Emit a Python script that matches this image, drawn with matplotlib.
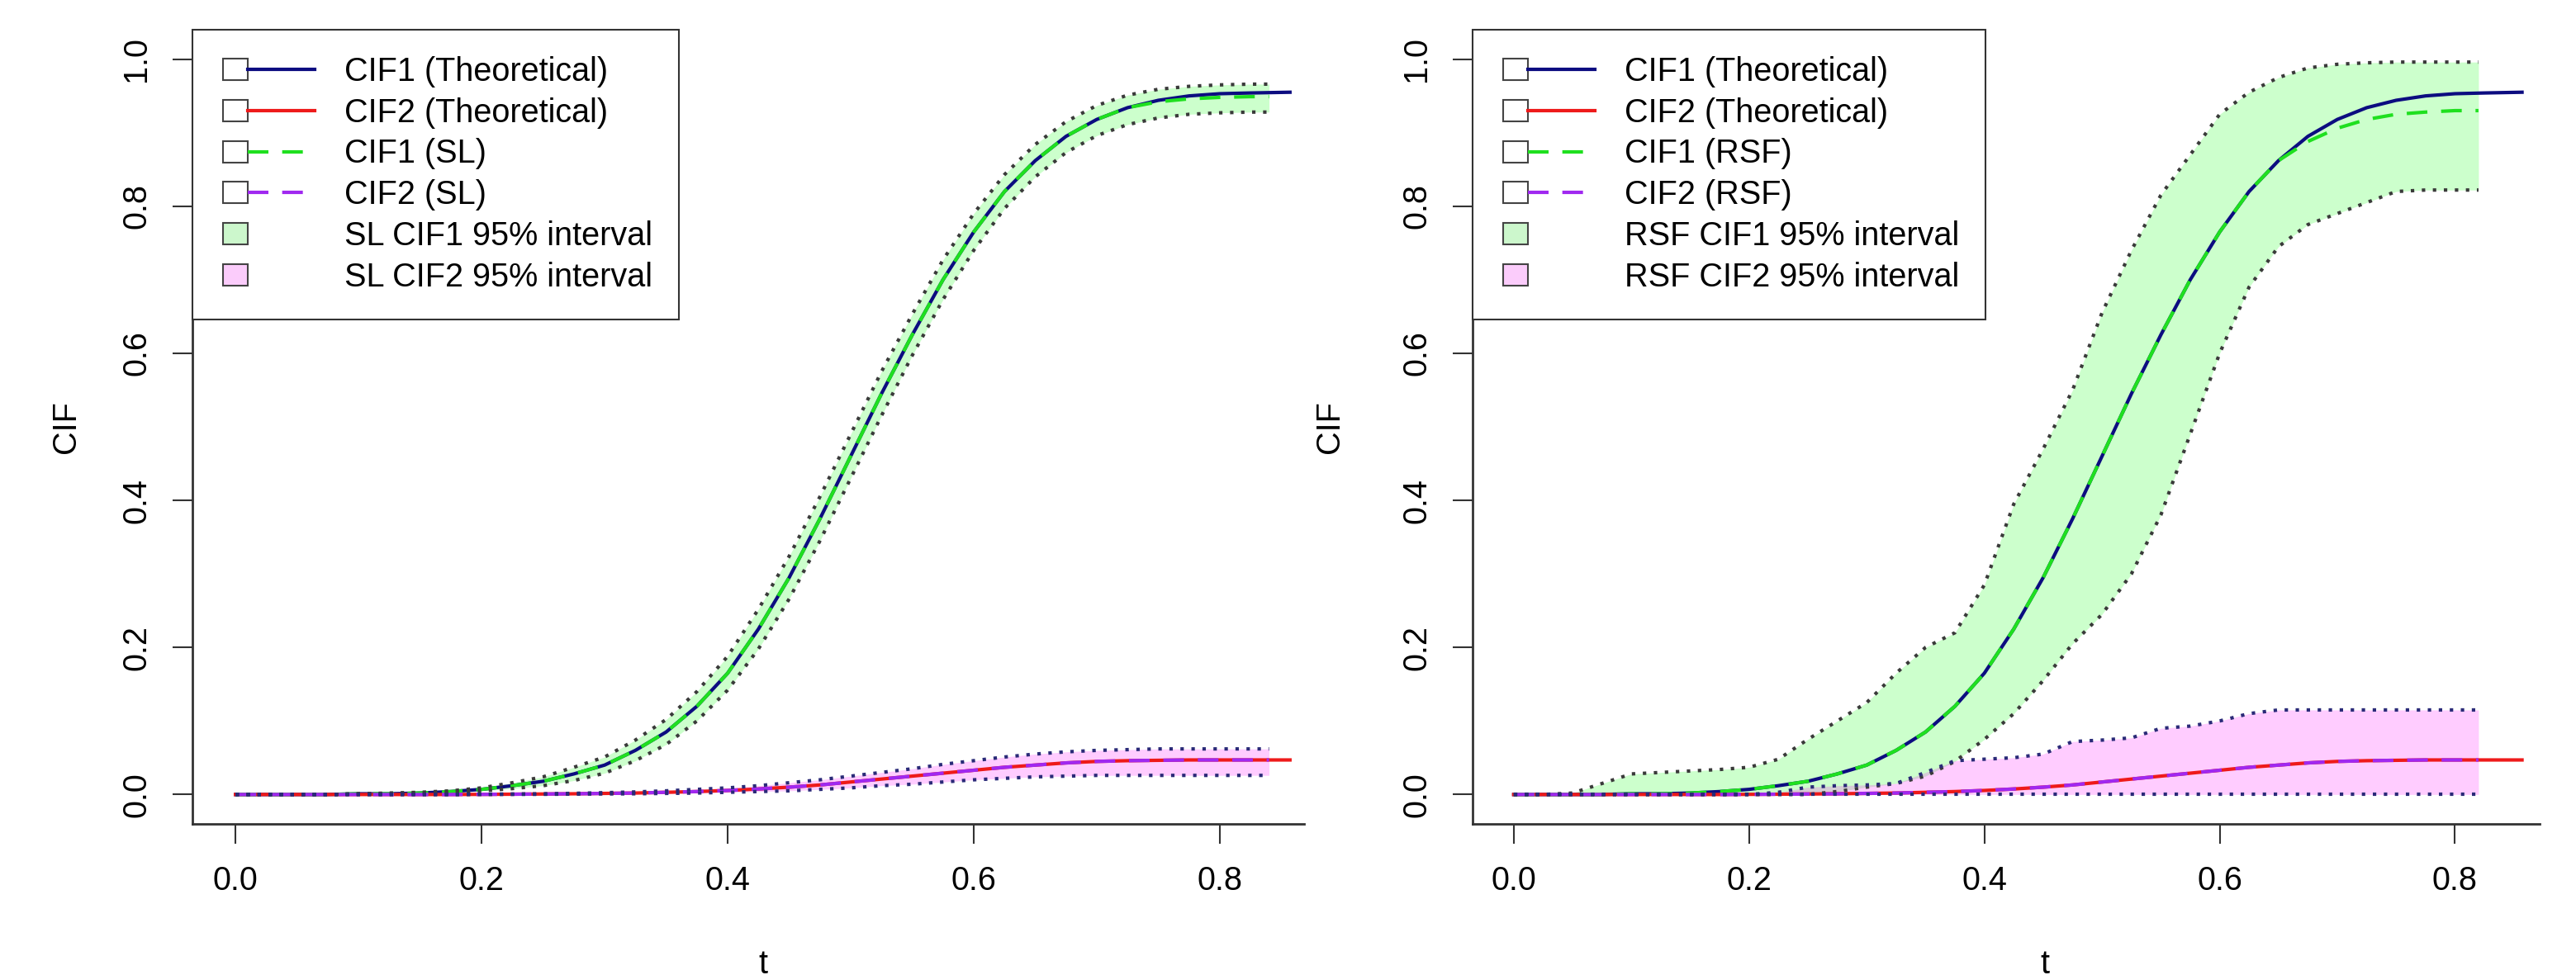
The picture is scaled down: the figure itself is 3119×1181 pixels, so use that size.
import matplotlib
matplotlib.use("Agg")
import matplotlib.pyplot as plt
from matplotlib.lines import Line2D
from matplotlib.patches import Patch, Rectangle
from matplotlib.legend_handler import HandlerBase

plt.rcParams['font.family'] = ['Liberation Sans', 'DejaVu Sans']

# theoretical curves (same for both panels)
t_theo = [0.000, 0.025, 0.050, 0.075, 0.100, 0.125, 0.150, 0.175, 0.200, 0.225,
          0.250, 0.275, 0.300, 0.325, 0.350, 0.375, 0.400, 0.425, 0.450, 0.475,
          0.500, 0.525, 0.550, 0.575, 0.600, 0.625, 0.650, 0.675, 0.700, 0.725,
          0.750, 0.775, 0.800, 0.825, 0.857]
cif1_theo = [0, 0, 0, 0, 0.001, 0.001, 0.002, 0.004, 0.007, 0.012,
             0.018, 0.028, 0.040, 0.060, 0.085, 0.120, 0.165, 0.225, 0.295, 0.375,
             0.460, 0.545, 0.625, 0.700, 0.765, 0.820, 0.862, 0.895, 0.918, 0.934,
             0.944, 0.950, 0.953, 0.954, 0.955]
cif2_theo = [0, 0, 0, 0, 0, 0, 0, 0, 0.0002, 0.0004,
             0.0007, 0.001, 0.0015, 0.002, 0.003, 0.004, 0.0055, 0.0075, 0.010, 0.013,
             0.017, 0.021, 0.025, 0.029, 0.033, 0.037, 0.040, 0.043, 0.045, 0.046,
             0.0465, 0.047, 0.047, 0.047, 0.047]

# SL estimates
t_sl = [0.000, 0.025, 0.050, 0.075, 0.100, 0.125, 0.150, 0.175, 0.200, 0.225,
        0.250, 0.275, 0.300, 0.325, 0.350, 0.375, 0.400, 0.425, 0.450, 0.475,
        0.500, 0.525, 0.550, 0.575, 0.600, 0.625, 0.650, 0.675, 0.700, 0.725,
        0.750, 0.775, 0.800, 0.825, 0.840]
cif1_sl = [0, 0, 0, 0, 0.001, 0.001, 0.002, 0.004, 0.007, 0.012,
           0.018, 0.028, 0.040, 0.060, 0.085, 0.120, 0.165, 0.225, 0.295, 0.375,
           0.460, 0.545, 0.625, 0.700, 0.765, 0.820, 0.862, 0.895, 0.918, 0.934,
           0.942, 0.946, 0.948, 0.949, 0.949]
cif1_sl_lo = [0, 0, 0, 0, 0.001, 0.001, 0.002, 0.003, 0.005, 0.008,
              0.012, 0.019, 0.029, 0.046, 0.068, 0.100, 0.142, 0.198, 0.266, 0.345,
              0.430, 0.515, 0.597, 0.673, 0.740, 0.797, 0.840, 0.873, 0.896, 0.911,
              0.920, 0.925, 0.927, 0.928, 0.928]
cif1_sl_hi = [0, 0, 0, 0, 0.001, 0.002, 0.003, 0.005, 0.009, 0.016,
              0.024, 0.037, 0.051, 0.074, 0.102, 0.140, 0.188, 0.252, 0.324, 0.405,
              0.490, 0.575, 0.653, 0.727, 0.790, 0.843, 0.884, 0.915, 0.937, 0.951,
              0.959, 0.963, 0.965, 0.966, 0.966]
cif2_sl = [0, 0, 0, 0, 0, 0, 0, 0, 0.0002, 0.0004,
           0.0007, 0.001, 0.0015, 0.002, 0.003, 0.004, 0.0055, 0.0075, 0.010, 0.013,
           0.017, 0.021, 0.025, 0.029, 0.033, 0.037, 0.040, 0.043, 0.045, 0.046,
           0.0465, 0.047, 0.047, 0.047, 0.047]
cif2_sl_lo = [0, 0, 0, 0, 0, 0, 0, 0, 0.0001, 0.0002,
              0.0003, 0.0005, 0.0008, 0.001, 0.0015, 0.002, 0.003, 0.004, 0.005, 0.007,
              0.009, 0.012, 0.014, 0.017, 0.020, 0.022, 0.024, 0.025, 0.026, 0.026,
              0.026, 0.026, 0.026, 0.026, 0.026]
cif2_sl_hi = [0, 0, 0, 0, 0, 0, 0, 0, 0.0004, 0.0007,
              0.001, 0.0016, 0.0025, 0.0035, 0.005, 0.007, 0.009, 0.012, 0.016, 0.020,
              0.025, 0.030, 0.035, 0.041, 0.046, 0.051, 0.055, 0.058, 0.060, 0.061,
              0.062, 0.062, 0.062, 0.062, 0.062]

# RSF estimates
t_rsf = [0.000, 0.025, 0.050, 0.075, 0.100, 0.125, 0.150, 0.175, 0.200, 0.225,
         0.250, 0.275, 0.300, 0.325, 0.350, 0.375, 0.400, 0.425, 0.450, 0.475,
         0.500, 0.525, 0.550, 0.575, 0.600, 0.625, 0.650, 0.675, 0.700, 0.725,
         0.750, 0.775, 0.800, 0.820]
cif1_rsf = [0, 0, 0, 0, 0.001, 0.001, 0.002, 0.004, 0.007, 0.012,
            0.018, 0.028, 0.040, 0.060, 0.085, 0.120, 0.165, 0.225, 0.295, 0.375,
            0.460, 0.545, 0.625, 0.700, 0.765, 0.820, 0.862, 0.888, 0.906, 0.918,
            0.925, 0.928, 0.930, 0.930]
cif1_rsf_lo = [0, 0, 0, 0, 0, 0, 0, 0, 0, 0,
               0, 0.004, 0.010, 0.015, 0.025, 0.045, 0.075, 0.110, 0.155, 0.205,
               0.245, 0.300, 0.380, 0.490, 0.600, 0.690, 0.745, 0.775, 0.790, 0.805,
               0.820, 0.822, 0.822, 0.822]
cif1_rsf_hi = [0, 0, 0.002, 0.015, 0.028, 0.030, 0.032, 0.034, 0.037, 0.048,
               0.075, 0.100, 0.125, 0.165, 0.200, 0.220, 0.285, 0.395, 0.470, 0.550,
               0.655, 0.740, 0.815, 0.870, 0.925, 0.955, 0.975, 0.988, 0.993, 0.995,
               0.996, 0.996, 0.996, 0.996]
cif2_rsf = [0, 0, 0, 0, 0, 0, 0, 0, 0.0002, 0.0004,
            0.0007, 0.001, 0.0015, 0.002, 0.003, 0.004, 0.0055, 0.0075, 0.010, 0.013,
            0.017, 0.021, 0.025, 0.029, 0.033, 0.037, 0.040, 0.043, 0.045, 0.046,
            0.0465, 0.047, 0.047, 0.047]
cif2_rsf_lo = [0] * 34
cif2_rsf_hi = [0, 0, 0, 0, 0, 0, 0, 0, 0, 0.003,
               0.010, 0.012, 0.013, 0.015, 0.030, 0.046, 0.048, 0.050, 0.055, 0.072,
               0.074, 0.077, 0.090, 0.093, 0.100, 0.110, 0.115, 0.115, 0.115, 0.115,
               0.115, 0.115, 0.115, 0.115]

x_ticks = [0.0, 0.2, 0.4, 0.6, 0.8]
y_ticks = [0.0, 0.2, 0.4, 0.6, 0.8, 1.0]

NAVY = '#0c0c80'
RED = '#ee1a1a'
GREEN = '#1fe01f'
PURPLE = '#a028f0'
EDGE1 = '#3a3a3a'
EDGE2 = '#2a2a78'
AXC = '#333333'
FS = 28.5
DASH = (0, (6, 4))
DOT = (0, (1, 2.2))


class BoxLineHandler(HandlerBase):
    # R-style legend key: small square followed by a line
    def create_artists(self, legend, orig_handle, xdescent, ydescent,
                       width, height, fontsize, trans):
        bw, bh, off = 21.6, 18.7, 3.8
        yc = height / 2 - ydescent
        is_line = isinstance(orig_handle, Line2D)
        fc = 'white' if is_line else orig_handle.get_facecolor()
        box = Rectangle((off - xdescent, yc - bh / 2), bw, bh, facecolor=fc,
                        edgecolor='#444444', lw=1.5, transform=trans)
        arts = [box]
        if is_line:
            ln = Line2D([], [])
            ln.update_from(orig_handle)
            ln.set_data([off + bw - xdescent, width - xdescent], [yc, yc])
            ln.set_transform(trans)
            arts.append(ln)
        return arts


def panel(ax, t_est, c1, c1_lo, c1_hi, c2, c2_lo, c2_hi, tag, xlim):
    ax.fill_between(t_est, c1_lo, c1_hi, color=(0, 1, 0), alpha=0.2, lw=0)
    ax.fill_between(t_est, c2_lo, c2_hi, color=(1, 0, 1), alpha=0.2, lw=0)
    ax.plot(t_theo, cif1_theo, color=NAVY, lw=3)
    ax.plot(t_theo, cif2_theo, color=RED, lw=3)
    ax.plot(t_est, c1, color=GREEN, lw=3, ls=DASH)
    ax.plot(t_est, c2, color=PURPLE, lw=3, ls=DASH)
    for y in (c1_lo, c1_hi):
        ax.plot(t_est, y, color=EDGE1, lw=3, ls=DOT)
    for y in (c2_lo, c2_hi):
        ax.plot(t_est, y, color=EDGE2, lw=3, ls=DOT)

    ax.set_xlim(*xlim)
    ax.set_ylim(-0.04, 1.04)
    ax.set_xticks(x_ticks)
    ax.set_xticklabels(['%.1f' % v for v in x_ticks])
    ax.set_yticks(y_ticks)
    ax.set_yticklabels(['%.1f' % v for v in y_ticks], rotation=90, va='center')
    ax.tick_params(direction='out', length=17, width=1.5, color=AXC, labelsize=FS)
    ax.tick_params(axis='x', pad=19)
    ax.tick_params(axis='y', pad=18)
    for s in ('top', 'right'):
        ax.spines[s].set_visible(False)
    for s in ('left', 'bottom'):
        ax.spines[s].set_color(AXC)
        ax.spines[s].set_linewidth(2)

    handles = [Line2D([], [], color=NAVY, lw=3),
               Line2D([], [], color=RED, lw=3),
               Line2D([], [], color=GREEN, lw=3, ls=DASH),
               Line2D([], [], color=PURPLE, lw=3, ls=DASH),
               Patch(facecolor='#ccf7cc'),
               Patch(facecolor='#fbccfb')]
    labels = ['CIF1 (Theoretical)', 'CIF2 (Theoretical)',
              'CIF1 (%s)' % tag, 'CIF2 (%s)' % tag,
              '%s CIF1 95%% interval' % tag, '%s CIF2 95%% interval' % tag]
    h = BoxLineHandler()
    leg = ax.legend(handles, labels, loc='upper left', bbox_to_anchor=(0, 1),
                    borderaxespad=0, fontsize=FS, fancybox=False, framealpha=1,
                    borderpad=0.8, labelspacing=0.3, handlelength=2.93,
                    handletextpad=0.93, handler_map={Line2D: h, Patch: h})
    leg.get_frame().set_edgecolor(AXC)
    leg.get_frame().set_linewidth(1.5)


fig = plt.figure(figsize=(31.19, 11.81), dpi=100)
ax1 = fig.add_axes([233 / 3119, 183 / 1181, 1346 / 3119, 962 / 1181])
ax2 = fig.add_axes([1783 / 3119, 183 / 1181, 1292 / 3119, 962 / 1181])

panel(ax1, t_sl, cif1_sl, cif1_sl_lo, cif1_sl_hi, cif2_sl, cif2_sl_lo, cif2_sl_hi,
      'SL', (-0.035, 0.8685))
panel(ax2, t_rsf, cif1_rsf, cif1_rsf_lo, cif1_rsf_hi, cif2_rsf, cif2_rsf_lo, cif2_rsf_hi,
      'RSF', (-0.035, 0.872))

for ax, xl, yl in ((ax1, 0.513, -0.114), (ax2, 0.536, -0.134)):
    ax.set_xlabel('t', fontsize=FS, va='top')
    ax.xaxis.set_label_coords(xl, -0.157)
    ax.set_ylabel('CIF', fontsize=FS, va='center')
    ax.yaxis.set_label_coords(yl, 0.5)

fig.savefig('out.png', dpi=100)
